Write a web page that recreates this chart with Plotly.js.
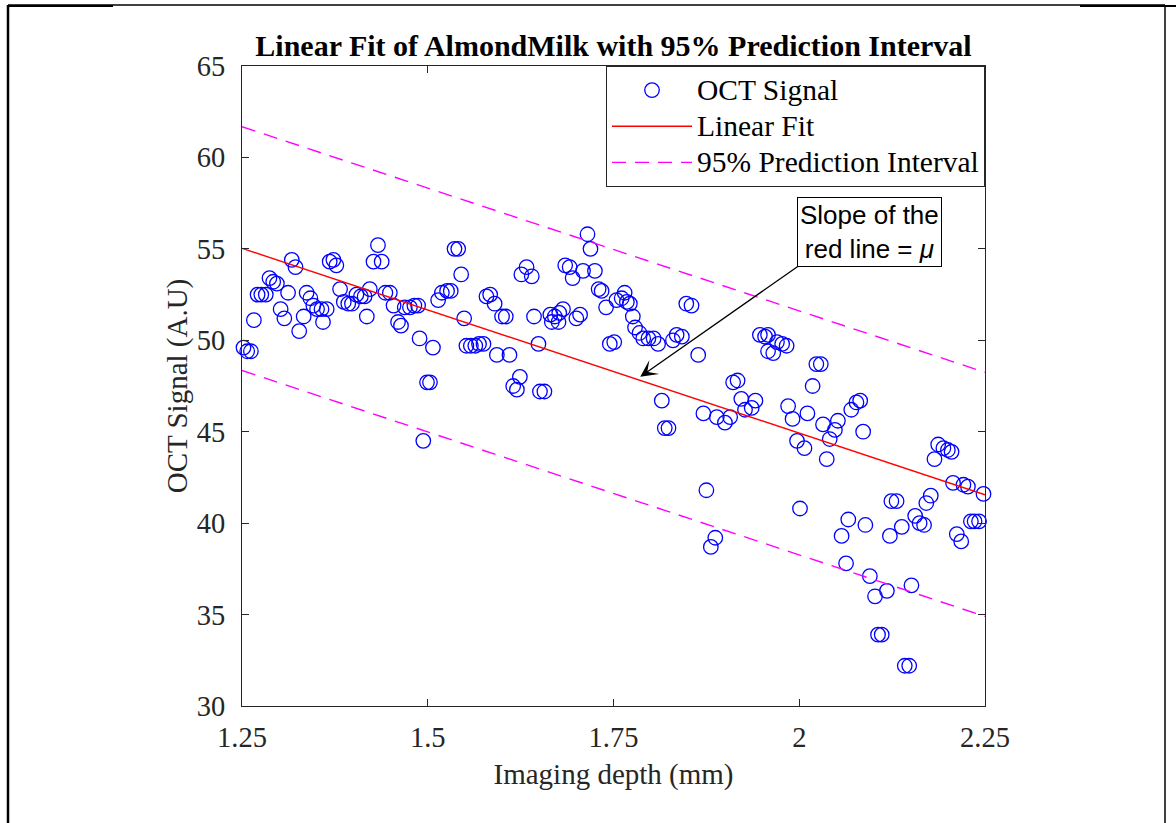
<!DOCTYPE html>
<html>
<head>
<meta charset="utf-8">
<script src="https://cdn.plot.ly/plotly-3.0.1.min.js"></script>
<style>
html,body{margin:0;padding:0;background:#fff;}
#chart{width:1176px;height:823px;}
</style>
</head>
<body>
<div id="chart"></div>
<script>
// Imaging depth (mm) of each OCT measurement
const depth = [1.247,1.252,1.257,1.262,1.266,1.271,1.276,1.282,1.287,1.292,1.297,1.302,1.307,1.312,1.317,1.322,1.327,1.333,1.337,1.342,1.346,1.351,1.357,1.364,1.359,1.368,1.373,1.377,1.382,1.387,1.393,1.398,1.404,1.410,1.415,1.418,1.422,1.427,1.433,1.438,1.443,1.449,1.454,1.460,1.464,1.469,1.476,1.482,1.487,1.489,1.494,1.499,1.503,1.507,1.514,1.519,1.526,1.531,1.536,1.541,1.545,1.549,1.552,1.558,1.564,1.569,1.575,1.579,1.584,1.590,1.593,1.600,1.605,1.610,1.615,1.620,1.624,1.626,1.633,1.640,1.643,1.649,1.651,1.657,1.665,1.667,1.671,1.676,1.677,1.682,1.685,1.691,1.695,1.700,1.705,1.709,1.715,1.719,1.725,1.730,1.734,1.740,1.745,1.751,1.754,1.761,1.765,1.768,1.772,1.776,1.779,1.785,1.790,1.797,1.804,1.810,1.815,1.819,1.824,1.830,1.835,1.842,1.848,1.855,1.864,1.871,1.875,1.881,1.887,1.889,1.900,1.907,1.911,1.917,1.922,1.927,1.936,1.941,1.947,1.954,1.958,1.958,1.965,1.970,1.977,1.983,1.985,1.991,1.997,2.001,2.007,2.011,2.018,2.023,2.029,2.032,2.037,2.041,2.048,2.052,2.057,2.063,2.066,2.070,2.077,2.082,2.086,2.089,2.095,2.102,2.106,2.111,2.118,2.122,2.124,2.131,2.138,2.142,2.148,2.151,2.156,2.162,2.168,2.171,2.177,2.182,2.187,2.194,2.200,2.205,2.207,2.212,2.218,2.221,2.227,2.231,2.236,2.242,2.248,2.252];
// OCT signal (A.U) at each depth
const signal = [52.5,49.6,49.4,49.4,51.1,52.5,52.5,52.5,53.4,53.2,53.1,51.7,51.2,52.6,54.4,54.0,50.5,51.3,52.6,52.3,51.9,51.7,51.7,51.7,51.0,54.3,54.4,54.1,52.8,52.1,52.0,52.0,52.5,52.4,52.4,51.3,52.8,54.3,55.2,54.3,52.6,52.6,51.9,51.0,50.8,51.8,51.8,51.9,51.9,50.1,44.5,47.7,47.7,49.6,52.2,52.6,52.7,52.7,55.0,55.0,53.6,51.2,49.7,49.7,49.7,49.8,49.8,52.4,52.5,52.0,49.2,51.3,51.3,49.2,47.5,47.3,48.0,53.6,54.0,53.5,51.3,49.8,47.2,47.2,51.4,51.0,51.3,51.0,51.5,51.7,54.1,54.0,53.4,51.2,51.4,53.8,55.8,55.0,53.8,52.8,52.7,51.8,49.8,49.9,52.2,52.3,52.6,52.1,52.0,51.3,50.7,50.4,50.1,50.1,50.1,49.8,46.7,45.2,45.2,50.0,50.3,50.2,52.0,51.9,49.2,46.0,41.8,38.7,39.2,45.8,45.5,45.8,47.7,47.8,46.8,46.2,46.3,46.7,50.3,50.2,50.3,49.4,49.3,49.9,49.8,49.7,46.4,45.7,44.5,40.8,44.1,46.0,47.5,48.7,48.7,45.4,43.5,44.6,45.1,45.6,39.3,37.8,40.2,46.2,46.6,46.7,45.0,39.9,37.1,36.0,33.9,33.9,36.3,39.3,41.2,41.2,39.8,32.2,32.2,36.6,40.4,40.0,39.9,41.1,41.5,43.5,44.3,44.1,44.0,43.9,42.2,39.4,39.0,42.1,42.0,40.1,40.1,40.1,41.6,41.6];

// Linear fit and 95% prediction interval (end points)
const fitDepth = [1.25, 2.25];
const fitSignal = [55.03, 41.55];
const piUpper = [61.68, 48.25];
const piLower = [48.35, 34.90];

// Axis ticks
const xTickVals = [1.25, 1.5, 1.75, 2, 2.25];
const xTickText = ['1.25', '1.5', '1.75', '2', '2.25'];
const yTickVals = [30, 35, 40, 45, 50, 55, 60, 65];

// Legend labels
const seriesNames = ['OCT Signal', 'Linear Fit', '95% Prediction Interval'];

const serif = 'Liberation Serif, Times New Roman, serif';
const sans = 'Liberation Sans, Arial, sans-serif';
const axCol = '#262626';
const big = s => '<span style="font-size:29.5px">' + s + '</span>';

const traces = [
  {x: depth, y: signal, type: 'scatter', mode: 'markers', name: big(seriesNames[0]),
   cliponaxis: false,
   marker: {symbol: 'circle-open', size: 14.5, color: '#0000FF', line: {width: 1.3, color: '#0000FF'}}},
  {x: fitDepth, y: fitSignal, type: 'scatter', mode: 'lines', name: big(seriesNames[1]),
   line: {color: '#FF0000', width: 1.4}},
  {x: fitDepth, y: piUpper, type: 'scatter', mode: 'lines', name: big(seriesNames[2]),
   line: {color: '#FF00FF', width: 1.4, dash: '14px,9px'}},
  {x: fitDepth, y: piLower, type: 'scatter', mode: 'lines', name: seriesNames[2],
   showlegend: false, line: {color: '#FF00FF', width: 1.4, dash: '14px,9px'}}
];

function px2x(p){ return (p - 242) / 743; }
function py2y(p){ return (706 - p) / 640; }

const layout = {
  width: 1176, height: 823,
  paper_bgcolor: '#ffffff', plot_bgcolor: '#ffffff',
  margin: {l: 242, r: 191, t: 66, b: 117},
  showlegend: true,
  hovermode: false,
  title: {text: '<b>Linear Fit of AlmondMilk with 95% Prediction Interval</b>',
          font: {family: serif, size: 30, color: '#000'},
          x: 0.5, xref: 'paper', xanchor: 'center', y: 1, yref: 'paper', yanchor: 'bottom', pad: {b: 10}},
  xaxis: {range: [1.25, 2.25], tickvals: xTickVals, ticktext: xTickText,
          ticks: 'inside', ticklen: 7, tickwidth: 1, tickcolor: axCol,
          showline: true, linecolor: axCol, linewidth: 1, mirror: 'ticks',
          showgrid: false, zeroline: false, ticklabelstandoff: 6,
          tickfont: {family: serif, size: 28.5, color: axCol},
          title: {text: 'Imaging depth (mm)', font: {family: serif, size: 29, color: axCol}, standoff: 11}},
  yaxis: {range: [30, 65], tickvals: yTickVals,
          ticks: 'inside', ticklen: 7, tickwidth: 1, tickcolor: axCol,
          showline: true, linecolor: axCol, linewidth: 1, mirror: 'ticks',
          showgrid: false, zeroline: false, ticklabelstandoff: 10,
          tickfont: {family: serif, size: 28.5, color: axCol},
          title: {text: 'OCT Signal (A.U)', font: {family: serif, size: 29, color: axCol}, standoff: 0}},
  legend: {x: 1, xanchor: 'right', y: 1, yanchor: 'top', xref: 'paper', yref: 'paper',
           bgcolor: '#ffffff', bordercolor: axCol, borderwidth: 1,
           font: {family: serif, size: 25.5, color: '#000'}, itemwidth: 80, tracegroupgap: 0},
  annotations: [
    {x: 1.786, y: 48.0, xref: 'x', yref: 'y', ax: 2.001, ay: 54.12, axref: 'x', ayref: 'y',
     text: '', showarrow: true, arrowhead: 3, arrowsize: 2.2, arrowwidth: 1.3, arrowcolor: '#000'},
    {x: 2.094, y: 55.9, xref: 'x', yref: 'y', showarrow: false,
     text: 'Slope of the<br>red line = <i>μ</i>',
     font: {family: sans, size: 26, color: '#000'}, align: 'center',
     bgcolor: '#ffffff', bordercolor: '#000', borderwidth: 1, borderpad: 2}
  ],
  shapes: [
    {type: 'line', xref: 'paper', yref: 'paper', x0: px2x(8), x1: px2x(1165), y0: py2y(5), y1: py2y(5), line: {color: '#000', width: 1.5}},
    {type: 'line', xref: 'paper', yref: 'paper', x0: px2x(8), x1: px2x(113), y0: py2y(6), y1: py2y(6), line: {color: '#000', width: 2}},
    {type: 'line', xref: 'paper', yref: 'paper', x0: px2x(1080), x1: px2x(1176), y0: py2y(6), y1: py2y(6), line: {color: '#000', width: 2}},
    {type: 'line', xref: 'paper', yref: 'paper', x0: px2x(8), x1: px2x(8), y0: py2y(5), y1: py2y(823), line: {color: '#000', width: 2.5}},
    {type: 'line', xref: 'paper', yref: 'paper', x0: px2x(1165), x1: px2x(1165), y0: py2y(5), y1: py2y(823), line: {color: '#000', width: 1.5}}
  ]
};

Plotly.newPlot('chart', traces, layout, {staticPlot: true, displayModeBar: false});
</script>
</body>
</html>
